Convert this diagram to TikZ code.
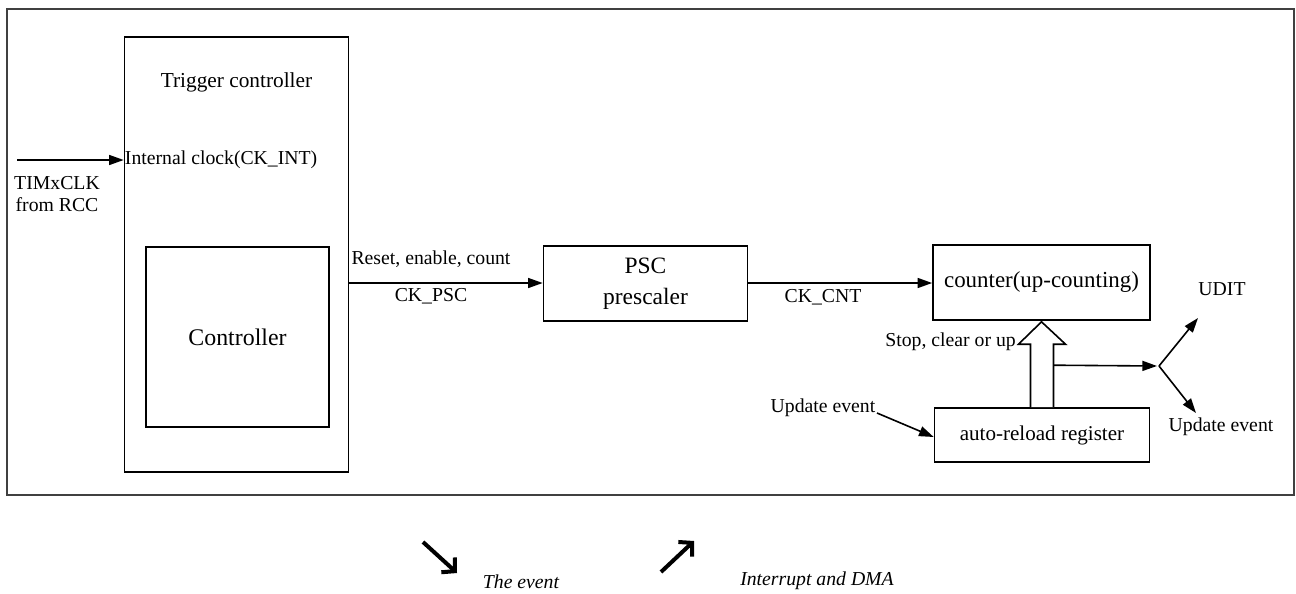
\documentclass[tikz,border=0pt]{standalone}
\usepackage{fontspec}
\setmainfont{Liberation Serif}
\usetikzlibrary{arrows.meta,calc}
\begin{document}
\begin{tikzpicture}[x=0.75pt,y=-0.75pt,
  box/.style={draw,line width=1.2pt,inner sep=0pt,align=center},
  lbl/.style={inner sep=0pt,font=\fontsize{14.8}{16.5}\selectfont,align=center},
  conn/.style={line width=1.2pt,-{Triangle[length=11pt,width=7.5pt]}},
  legarrow/.style={line width=3pt,-{Straight Barb[length=7pt,width=15pt,line width=3pt]}}]
\useasboundingbox (0,0) rectangle (1296,593);
\draw[black!75,line width=0.8pt] (7,9) rectangle (1294,495);
% boxes
\node[box,minimum width=168pt,minimum height=326.25pt] (trig) at (236.5,254.5) {};
\node[lbl,font=\fontsize{16}{20}\selectfont] (trigt) at (236.5,82) {Trigger controller};
\node[box,minimum width=137.25pt,minimum height=135pt,font=\fontsize{17.9}{22}\selectfont] (ctrl) at (237.5,337) {Controller};
\node[box,minimum width=153pt,minimum height=56.25pt,font=\fontsize{17.6}{23.5}\selectfont] (psc) at (645.5,283.5) {PSC\\prescaler};
\node[box,minimum width=162.75pt,minimum height=56.25pt,font=\fontsize{17.2}{22}\selectfont] (cnt) at (1041.5,282.5) {counter(up-counting)};
\node[box,minimum width=161.25pt,minimum height=40.5pt,font=\fontsize{15.8}{20}\selectfont] (arr) at (1042,435) {auto-reload register};
% input clock
\coordinate (clkin) at (17,160);
\draw[conn] (clkin) -- (clkin -| trig.west);
\node[lbl,anchor=west] (ckint) at ($(clkin -| trig.west)+(1,0)$) {Internal clock(CK\_INT)};
\node[lbl] (timx) at (57,194) {TIMxCLK\\from RCC};
% trigger -> psc
\draw[conn] (trig.east |- 0,283) -- (psc.west |- 0,283);
\node[lbl] (rec) at (431,259) {Reset, enable, count};
\node[lbl] (ckpsc) at (431,296) {CK\_PSC};
% psc -> counter
\draw[conn] (psc.east |- 0,283) -- (cnt.west |- 0,283);
\node[lbl] (ckcnt) at (823,297) {CK\_CNT};
% hollow arrow
\draw[line width=1.2pt,fill=white] ($(arr.north)+(-11.5,0)$) -- ++(0,-63) -- ++(-12,0) -- ($(cnt.south)+(0,1)$) -- ($(arr.north)+(23.5,-63)$) -- ++(-12,0) -- ($(arr.north)+(11.5,0)$);
\node[lbl,anchor=east] (scu) at (1016,342) {Stop, clear or up};
% update out
\coordinate (split) at (1159,366);
\draw[conn] ($(arr.north)+(11.5,-42)$) -- ($(split)+(-2,0)$);
\coordinate (udup) at (1198,318);
\coordinate (uddn) at (1196,413);
\draw[conn] (split) -- (udup);
\draw[conn] (split) -- (uddn);
\node[lbl] (udit) at (1222,289) {UDIT};
\node[lbl] (ue2) at (1221,427) {Update event};
% update in
\node[lbl] (ue1) at (823,408) {Update event};
\coordinate (uein) at (877,413);
\draw[conn] (uein) -- (arr.west |- 0,437);
% legend
\coordinate (l1a) at (423,542);
\coordinate (l1b) at (457,573);
\draw[legarrow] (l1a) -- (l1b);
\node[lbl,font=\itshape\fontsize{14.8}{18}\selectfont] (ev) at (521,582) {The event};
\coordinate (l2a) at (661,572);
\coordinate (l2b) at (694,541);
\draw[legarrow] (l2a) -- (l2b);
\node[lbl,font=\itshape\fontsize{14.8}{18}\selectfont] (idma) at (817,581) {Interrupt and DMA};
\end{tikzpicture}
\end{document}
